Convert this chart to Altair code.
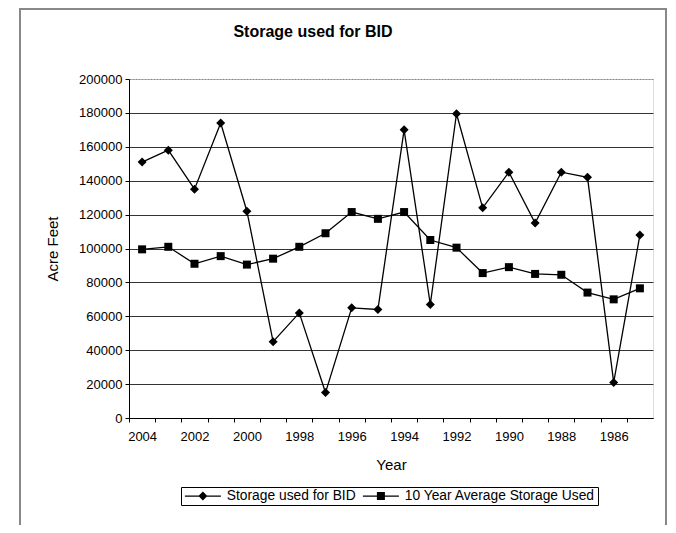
import altair as alt
import pandas as pd

years = list(range(2004, 1984, -1))
storage_used = [151000, 158000, 135000, 174000, 122000, 45000, 62000, 15000, 65000, 64000,
                170000, 67000, 179500, 124000, 145000, 115000, 145000, 142000, 21000, 108000]
ten_year_avg = [99500, 101000, 91000, 95500, 90500, 94000, 101000, 109000, 121500, 117500,
                121500, 105000, 100500, 85500, 89000, 85000, 84500, 74000, 70000, 76500]
series_names = ["Storage used for BID", "10 Year Average Storage Used"]
y_ticks = list(range(0, 200001, 20000))

rows = []
for i, yr in enumerate(years):
    rows.append({"year": yr, "value": storage_used[i], "series": series_names[0], "leg": series_names[0]})
    rows.append({"year": yr, "value": ten_year_avg[i], "series": series_names[1], "leg": series_names[1]})
df = pd.DataFrame(rows)

W, H = 524, 339
step = W / len(years)
FONT = "Liberation Sans"

x_enc = alt.X(
    "year:O", sort="descending",
    scale=alt.Scale(type="point", padding=0.5),
    axis=alt.Axis(
        title="Year", labelAngle=0, labelOverlap=False,
        labelExpr="datum.value % 2 == 0 ? datum.label : ''",
        tickOffset=-step / 2, labelOffset=step / 2,
        tickSize=4, tickColor="black", domainColor="black",
        labelFont=FONT, labelFontSize=13, labelPadding=8, labelColor="black",
        titleFont=FONT, titleFontSize=15, titleFontWeight="normal", titlePadding=14, titleColor="black",
    ),
)
y_enc = alt.Y(
    "value:Q",
    scale=alt.Scale(domain=[0, 200000], nice=False),
    axis=alt.Axis(
        values=y_ticks, format="d", title="Acre Feet",
        grid=True,
        gridColor={"condition": {"test": "datum.value >= 200000", "value": "#888"}, "value": "#333"},
        gridDash={"condition": {"test": "datum.value >= 200000", "value": [2, 1]}, "value": []},
        gridWidth=1,
        tickSize=4, tickColor="black", domainColor="black",
        labelFont=FONT, labelFontSize=13, labelPadding=3, labelColor="black",
        titleFont=FONT, titleFontSize=15, titleFontWeight="normal", titlePadding=18, titleColor="black",
    ),
)

base = alt.Chart(df)

lines = base.mark_line(color="black", strokeWidth=1.3).encode(x=x_enc, y=y_enc, detail="series:N")

points = base.mark_point(filled=True, color="black", opacity=1).encode(
    x=x_enc, y=y_enc,
    shape=alt.Shape("series:N", scale=alt.Scale(domain=series_names, range=["diamond", "square"]), legend=None),
    size=alt.Size("series:N", scale=alt.Scale(domain=series_names, range=[81, 64]), legend=None),
)

# legend symbols: a thin filled bar (line) with a marker in the middle
path_diamond = "M-3.6,-0.12H3.6V0.12H-3.6ZM0,-0.9L0.9,0L0,0.9L-0.9,0Z"
path_square = "M-3.6,-0.12H3.6V0.12H-3.6ZM-0.8,-0.8H0.8V0.8H-0.8Z"

legend_layer = base.mark_point(filled=True, color="black", opacity=0).encode(
    x=x_enc, y=y_enc,
    shape=alt.Shape(
        "leg:N",
        scale=alt.Scale(domain=series_names, range=[path_diamond, path_square]),
        legend=alt.Legend(
            title=None, orient="none", legendX=52, legendY=408, direction="horizontal",
            labelFont=FONT, labelFontSize=13.8, labelColor="black", labelLimit=0,
            symbolSize=100, symbolStrokeWidth=0, symbolFillColor="black",
            symbolOpacity=1,
            symbolOffset=13, labelOffset=17, columnPadding=5,
            strokeColor="black", padding=2, fillColor="white",
        ),
    ),
)

frame = base.mark_rect(filled=False, stroke="#888", strokeWidth=1.5, clip=False).encode(
    x=alt.value(-109), x2=alt.value(537), y=alt.value(-70), y2=alt.value(480)
)

chart = alt.layer(frame, lines, points, legend_layer).resolve_scale(
    shape="independent"
).properties(
    width=W, height=H,
    title=alt.TitleParams(
        "Storage used for BID", font=FONT, fontSize=16, fontWeight="bold",
        color="black", anchor="middle", frame="group", dx=-78, offset=-32,
    ),
    autosize=alt.AutoSizeParams(type="none"),
    padding={"left": 121, "top": 71, "right": 15, "bottom": 107},
).configure_view(
    stroke="#777", strokeDash=[2, 1], strokeWidth=1
).configure(background="white")

chart.save("out.html", embed_options={"renderer": "svg", "actions": False})
